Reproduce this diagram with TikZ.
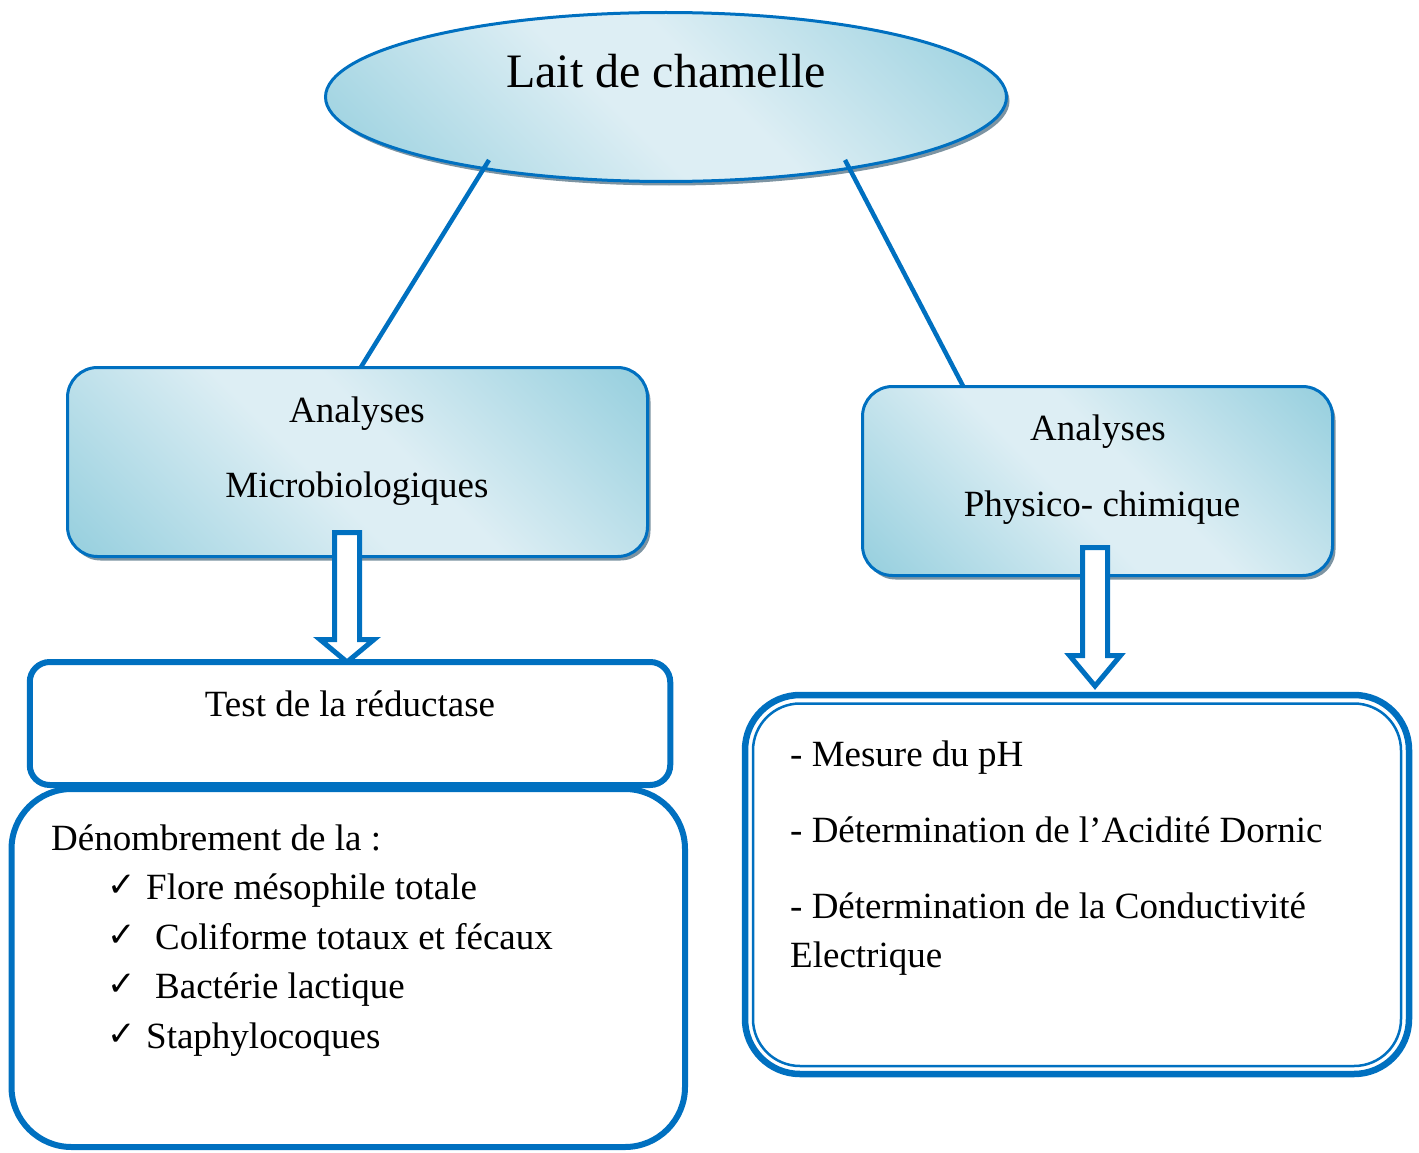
\documentclass[tikz,border=0pt]{standalone}
\usepackage{fontspec}
\setmainfont{Liberation Serif}
\newfontfamily\symfont{DejaVu Sans}
\usetikzlibrary{shapes.geometric,shadows,calc}
\definecolor{bl}{RGB}{0,112,192}
\definecolor{dkb}{RGB}{150,207,222}
\definecolor{ltb}{RGB}{221,238,244}
\definecolor{shd}{RGB}{125,148,162}
\pgfdeclarehorizontalshading{aqua}{100bp}{color(0bp)=(dkb); color(15bp)=(dkb); color(45bp)=(ltb); color(55bp)=(ltb); color(85bp)=(dkb); color(100bp)=(dkb)}
\begin{document}
\begin{tikzpicture}[x=1pt,y=-1pt,
  aquashape/.style={shading=aqua, shading angle=45, draw=bl, line width=3pt, inner sep=0pt,
    drop shadow={shadow xshift=3pt, shadow yshift=-4pt, fill=shd, opacity=1}},
  plainbox/.style={rectangle, draw=bl, inner sep=0pt},
  conn/.style={draw=bl, line width=4.5pt},
  barrow/.style={draw=bl, fill=white, line width=5pt, line join=miter},
  txt/.style={font=\fontsize{37}{44}\selectfont, inner sep=0pt, anchor=base west},
  ctxt/.style={font=\fontsize{37}{44}\selectfont, inner sep=0pt, anchor=base},
  ck/.style={font=\symfont\bfseries\fontsize{34}{40}\selectfont, inner sep=0pt, anchor=base west}]
\useasboundingbox (0,0) rectangle (1419,1153);

% top ellipse
\node[ellipse, aquashape, minimum width=681pt, minimum height=169pt] (lait) at (666,97) {};
\node[ctxt, font=\fontsize{48}{56}\selectfont] (laitt) at (666,88) {Lait de chamelle};

% analysis boxes
\node[rectangle, rounded corners=30pt, aquashape, minimum width=580pt, minimum height=189pt] (micro) at (357.5,462) {};
\node[rectangle, rounded corners=30pt, aquashape, minimum width=470pt, minimum height=189pt] (phys) at (1097.5,481) {};

% connectors from ellipse
\coordinate (c1) at (489,160);
\coordinate (c2) at (845,160);
\coordinate (m1) at (361,367);
\coordinate (p1) at (963,386);
\draw[conn] (c1) -- (m1);
\draw[conn] (c2) -- (p1);

\node[ctxt] (micro1) at (357,422) {Analyses};
\node[ctxt] (micro2) at (357,497) {Microbiologiques};
\node[ctxt] (phys1) at (1098,440) {Analyses};
\node[ctxt] (phys2) at (1102,516) {Physico- chimique};

% block arrows
\coordinate (a1s) at (347,532.5);
\coordinate (a1t) at (347,662);
\draw[barrow] ($(a1s)+(-12.5,0)$) -- ($(a1s)+(12.5,0)$) -- ($(a1t)+(12.5,-22.5)$) -- ($(a1t)+(27,-22.5)$)
  -- (a1t) -- ($(a1t)+(-27,-22.5)$) -- ($(a1t)+(-12.5,-22.5)$) -- cycle;
\coordinate (a2s) at (1095,547.5);
\coordinate (a2t) at (1095,686);
\draw[barrow] ($(a2s)+(-12.5,0)$) -- ($(a2s)+(12.5,0)$) -- ($(a2t)+(12.5,-30.5)$) -- ($(a2t)+(25.5,-30.5)$)
  -- (a2t) -- ($(a2t)+(-25.5,-30.5)$) -- ($(a2t)+(-12.5,-30.5)$) -- cycle;

% lower left boxes
\node[plainbox, rounded corners=20pt, line width=6pt, fill=white, minimum width=640.5pt, minimum height=123pt] (test) at (350,723.5) {};
\node[plainbox, rounded corners=60pt, line width=6pt, minimum width=673.5pt, minimum height=358pt] (denom) at (348.25,968) {};
\node[ctxt] (testt) at (350,716) {Test de la réductase};
\node[txt] (den) at (51,850) {Dénombrement de la :};
\node[ck] (ck1) at (107,896) {✓};
\node[ck] (ck2) at (107,946) {✓};
\node[ck] (ck3) at (107,995) {✓};
\node[ck] (ck4) at (107,1045) {✓};
\node[txt] (it1) at (146,899) {Flore mésophile totale};
\node[txt] (it2) at (155,949) {Coliforme totaux et fécaux};
\node[txt] (it3) at (155,998) {Bactérie lactique};
\node[txt] (it4) at (146,1048) {Staphylocoques};

% right double box
\node[plainbox, rounded corners=55pt, line width=6.5pt, minimum width=664pt, minimum height=379pt] (mes) at (1077,884.5) {};
\node[plainbox, rounded corners=47pt, line width=2.5pt, minimum width=648pt, minimum height=362.5pt] (mesin) at (1077,884.75) {};
\node[txt] (r1) at (790,766) {- Mesure du pH};
\node[txt] (r2) at (790,842) {- Détermination de l’Acidité Dornic};
\node[txt] (r3) at (790,918) {- Détermination de la Conductivité};
\node[txt] (r4) at (790,967) {Electrique};
\end{tikzpicture}
\end{document}
